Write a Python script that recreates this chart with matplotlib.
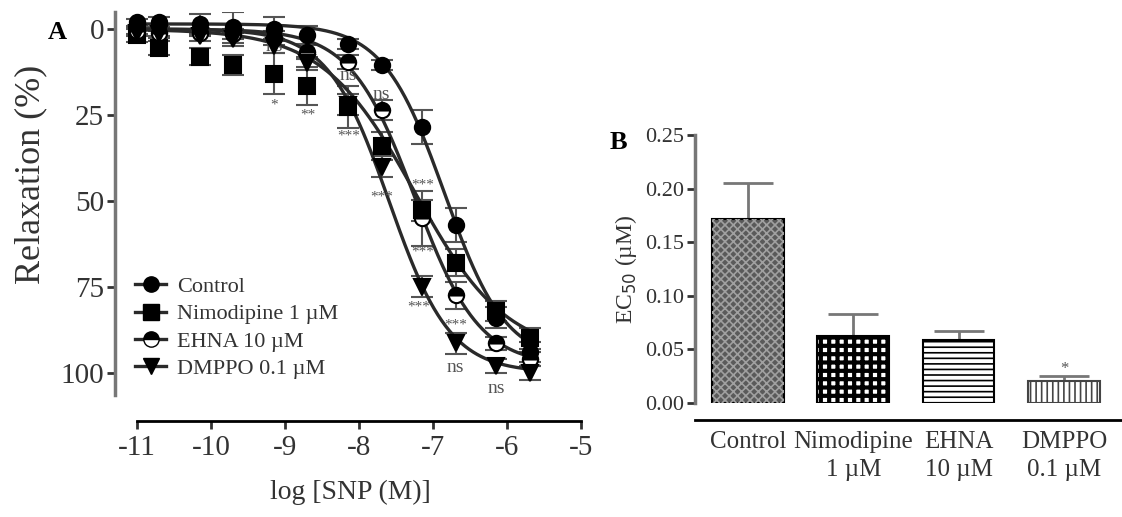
import matplotlib
matplotlib.use("Agg")
import matplotlib.pyplot as plt
import numpy as np

plt.rcParams['font.family'] = ['Liberation Serif', 'DejaVu Serif']
plt.rcParams['axes.unicode_minus'] = False
plt.rcParams['hatch.linewidth'] = 1.2

# ---- panel A data: log [SNP (M)] vs relaxation (%)
log_snp = [-11, -10.7, -10.15, -9.7, -9.15, -8.7, -8.15, -7.7, -7.15, -6.7, -6.15, -5.7]

control = [-2, -2, -1.5, -0.5, 0, 1.7, 4.4, 10.5, 28.5, 57, 84, 94]
control_err = [1, 1.5, 3, 4.5, 3.5, 2.6, 1.5, 1.5, 5, 5, 3, 3]

nimodipine = [1.7, 5.5, 8, 10.5, 13, 16.5, 22.7, 34, 52.8, 68, 82, 90]
nimodipine_err = [2, 2, 2.5, 3, 6, 5.5, 6, 4, 3, 4, 3, 3]

ehna = [0.5, 1, 1, 1.5, 2.6, 6.7, 9.6, 23.6, 55, 77.5, 91.5, 96]
ehna_err = [1, 1, 1, 1.5, 2, 2, 2, 3, 8, 4, 2, 2]

dmppo = [1, 1.5, 2, 3, 5, 10, 22, 40, 75, 91.5, 98, 100]
dmppo_err = [1, 1, 1.5, 2, 2, 2, 3, 3, 3, 3, 2, 2]

# fitted sigmoid parameters: bottom, top, logEC50, hill slope
fit_control = (-1.5, 97, -6.85, 1.05)
fit_nimodipine = (0, 95, -7.25, 0.7)
fit_ehna = (0, 98, -7.25, 1.0)
fit_dmppo = (0, 100, -7.6, 1.05)

# significance marks (x, y, text)
marks = [(-9.15, 5, "ns"), (-8.7, 7.5, "ns"), (-8.15, 13.5, "ns"), (-7.7, 19, "ns"),
         (-9.15, 22, "*"), (-8.7, 25, "**"), (-8.15, 31, "***"), (-7.7, 49, "***"),
         (-7.15, 45.5, "***"), (-7.15, 65, "***"), (-7.2, 81, "***"), (-6.7, 86, "***"),
         (-6.7, 98.5, "ns"), (-6.15, 104.5, "ns")]

# ---- panel B data: EC50 (uM)
groups = ["Control", "Nimodipine\n1 \u00b5M", "EHNA\n10 \u00b5M", "DMPPO\n0.1 \u00b5M"]
ec50 = [0.172, 0.063, 0.059, 0.021]
ec50_err = [0.033, 0.020, 0.008, 0.004]


def hill(x, p):
    bottom, top, logec, h = p
    return bottom + (top - bottom) / (1 + 10 ** ((logec - x) * h))


fig = plt.figure(figsize=(11.22, 5.17), dpi=100)

# ---------------- panel A
ax = fig.add_axes([0.1025, 0.236, 0.419, 0.741])
xs = np.linspace(-11, -5.7, 300)
series = [
    (control, control_err, fit_control, "o", "full", "Control"),
    (nimodipine, nimodipine_err, fit_nimodipine, "s", "full", "Nimodipine 1 \u00b5M"),
    (ehna, ehna_err, fit_ehna, "o", "top", "EHNA 10 \u00b5M"),
    (dmppo, dmppo_err, fit_dmppo, "v", "full", "DMPPO 0.1 \u00b5M"),
]
handles = []
for vals, err, fit, mk, fs, lab in series:
    ax.errorbar(log_snp, vals, yerr=err, fmt="none", ecolor="#555555",
                elinewidth=1.5, capsize=8, capthick=1.5, zorder=2)
    ax.plot(xs, hill(xs, fit), color="#2a2a2a", lw=2.4, zorder=3)
    ax.plot(log_snp, vals, ls="none", marker=mk, ms=11 if mk != "s" else 12,
            color="black", fillstyle=fs, markerfacecoloralt="white",
            markeredgewidth=1.5, zorder=4)
    h, = ax.plot([], [], color="#2a2a2a", lw=2.4, marker=mk, ms=11, mfc="black",
                 mec="black", fillstyle=fs, markerfacecoloralt="white", label=lab)
    handles.append(h)

for x, y, t in marks:
    ax.text(x, y, t, ha="center", va="center", color="#555555",
            fontsize=14 if t == "ns" else 11)

ax.set_xlim(-11.3, -4.95)
ax.set_ylim(106.5, -5)
ax.spines["top"].set_visible(False)
ax.spines["right"].set_visible(False)
ax.spines["left"].set_color("#777777")
ax.spines["left"].set_linewidth(2.5)
ax.spines["bottom"].set_position(("outward", 19))
ax.spines["bottom"].set_bounds(-11, -5)
ax.spines["bottom"].set_linewidth(2)
ax.set_xticks([-11, -10, -9, -8, -7, -6, -5])
ax.set_yticks([0, 25, 50, 75, 100])
ax.tick_params(axis="both", labelsize=21, colors="#333333", length=6, width=2)
ax.tick_params(axis="y", pad=2)
ax.set_xlabel("log [SNP (M)]", fontsize=20, color="#333333", labelpad=14)
ax.set_ylabel("Relaxation (%)", fontsize=26, color="#333333")
ax.yaxis.set_label_coords(-0.145, 0.575)
ax.legend(handles=handles, loc="lower left", bbox_to_anchor=(0.0, -0.01),
          frameon=False, fontsize=16, handlelength=1.4, handletextpad=0.5,
          labelspacing=0.3, labelcolor="#333333")
fig.text(0.043, 0.925, "A", fontsize=19, fontweight="bold")

# ---------------- panel B
bx = fig.add_axes([0.6195, 0.2205, 0.38, 0.518])
pos = np.arange(len(groups))
w = 0.68
bx.bar(pos[0], ec50[0], w, color="#5a5a5a", edgecolor="black", lw=1.5, zorder=2)
bx.bar(pos[0], ec50[0], w, color="none", edgecolor="#a0a0a0", hatch="xxxx", lw=0, zorder=3)
with plt.rc_context({"hatch.linewidth": 3.0}):
    bx.bar(pos[1], ec50[1], w, color="white", edgecolor="black", hatch="++", lw=1.5, zorder=2)
bx.bar(pos[2], ec50[2], w, color="white", edgecolor="black", hatch="---", lw=1.5, zorder=2)
bx.bar(pos[3], ec50[3], w, color="white", edgecolor="#444444", hatch="|||", lw=1.5, zorder=2)
bx.errorbar(pos, ec50, yerr=[np.zeros(len(ec50)), ec50_err], fmt="none",
            ecolor="#777777", elinewidth=2, capsize=18, capthick=2, zorder=1)
bx.text(pos[3], ec50[3] + ec50_err[3] + 0.007, "*", ha="center", va="center",
        fontsize=12, color="#555555")

bx.set_xlim(-0.502, 3.545)
bx.set_ylim(0, 0.25)
bx.spines["top"].set_visible(False)
bx.spines["right"].set_visible(False)
bx.spines["left"].set_color("#777777")
bx.spines["left"].set_linewidth(2.5)
bx.spines["bottom"].set_position(("outward", 12))
bx.spines["bottom"].set_linewidth(2)
bx.set_yticks([0, 0.05, 0.10, 0.15, 0.20, 0.25])
bx.set_yticklabels(["0.00", "0.05", "0.10", "0.15", "0.20", "0.25"])
bx.set_xticks(pos)
bx.set_xticklabels(groups, fontsize=18, color="#333333", linespacing=1.35)
bx.tick_params(axis="x", length=0, pad=8)
bx.tick_params(axis="y", labelsize=16, colors="#333333", length=6, width=2, pad=2)
bx.set_ylabel("EC$_{50}$ (\u00b5M)", fontsize=17, color="#333333", labelpad=4)
fig.text(0.543, 0.712, "B", fontsize=19, fontweight="bold")

fig.savefig("out.png", dpi=100)
